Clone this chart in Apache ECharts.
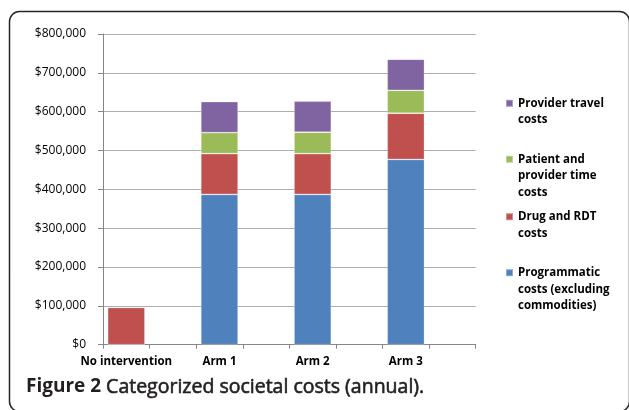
<!DOCTYPE html>
<html><head><meta charset="utf-8">
<script src="https://cdn.jsdelivr.net/npm/echarts@6/dist/echarts.min.js"></script>
<style>html,body{margin:0;padding:0;background:#fff}#c{width:629px;height:410px}</style>
</head><body><div id="c"></div>
<script>
const categories = ['No intervention', '', 'Arm 1', '', 'Arm 2', '', 'Arm 3', ''];
const programmatic = [0, null, 387000, null, 387000, null, 477000, null];
const drugRdt = [96000, null, 105000, null, 105000, null, 119000, null];
const timeCosts = [0, null, 54000, null, 55000, null, 59000, null];
const travelCosts = [0, null, 80000, null, 80000, null, 80000, null];
const seriesNames = ['Programmatic costs (excluding commodities)', 'Drug and RDT costs', 'Patient and provider time costs', 'Provider travel costs'];
const legendLabels = {
  'Provider travel costs': 'Provider travel\ncosts',
  'Patient and provider time costs': 'Patient and\nprovider time\ncosts',
  'Drug and RDT costs': 'Drug and RDT\ncosts',
  'Programmatic costs (excluding commodities)': 'Programmatic\ncosts (excluding\ncommodities)'
};
const yTicks = [0, 100000, 200000, 300000, 400000, 500000, 600000, 700000, 800000];
const colors = ['#4F81BD', '#C0504D', '#9BBB59', '#8064A2'];
const values = [programmatic, drugRdt, timeCosts, travelCosts];

const font = 'Open Sans';
const chart = echarts.init(document.getElementById('c'), null, {renderer: 'canvas'});

function legendItem(name, firstLineY) {
  const txt = legendLabels[name];
  const n = txt.split('\n').length;
  const pad = '\n'.repeat(n - 1);
  const lh = 16.7;
  const total = (2 * n - 1) * lh;
  return {
    orient: 'vertical', left: 505, top: firstLineY - total / 2, padding: 0,
    itemWidth: 7, itemHeight: 7, icon: 'rect', data: [name],
    formatter: () => pad + txt,
    textStyle: {fontFamily: font, fontWeight: 'bold', fontSize: 11.5, color: '#000', lineHeight: lh}
  };
}

chart.setOption({
  animation: false,
  graphic: [{
    type: 'rect', z: -1,
    shape: {x: 9.5, y: 11.5, width: 620, height: 400, r: 10},
    style: {fill: 'none', stroke: '#262626', lineWidth: 1.5}
  }],
  title: {
    left: 26, top: 377, padding: 0,
    text: '{b|Figure 2} {r|Categorized societal costs (annual).}',
    textStyle: {
      rich: {
        b: {fontFamily: font, fontWeight: 'bold', fontSize: 19, color: '#231F20'},
        r: {fontFamily: font, fontWeight: 'normal', fontSize: 19.5, color: '#231F20',
            textBorderColor: '#231F20', textBorderWidth: 0.6}
      }
    }
  },
  legend: [
    legendItem('Provider travel costs', 103.3),
    legendItem('Patient and provider time costs', 159.3),
    legendItem('Drug and RDT costs', 216.7),
    legendItem('Programmatic costs (excluding commodities)', 272.7)
  ],
  grid: {left: 103, right: 153.3, top: 34, bottom: 65.3, containLabel: false},
  xAxis: {
    type: 'category', data: categories,
    axisLine: {lineStyle: {color: '#868686', width: 1}},
    axisTick: {show: true, interval: 0, length: 4, lineStyle: {color: '#868686'}},
    axisLabel: {interval: 0, margin: 11, fontFamily: font, fontWeight: 'bold', fontSize: 11.5, color: '#000'}
  },
  yAxis: {
    type: 'value', min: 0, max: 800000, interval: 100000,
    axisLine: {show: true, lineStyle: {color: '#868686', width: 1}},
    axisTick: {show: true, length: 5, lineStyle: {color: '#868686'}},
    splitLine: {lineStyle: {color: '#ADADAD', width: 1.2}},
    axisLabel: {
      margin: 17, fontFamily: font, fontSize: 12, color: '#000',
      formatter: v => yTicks.includes(v) ? '$' + v.toLocaleString('en-US') : ''
    }
  },
  series: seriesNames.map((name, i) => ({
    name, type: 'bar', stack: 'total', data: values[i],
    barCategoryGap: '20%',
    itemStyle: {color: colors[i], borderColor: 'rgba(255,255,255,0.35)', borderWidth: 0.8}
  }))
});
</script></body></html>
